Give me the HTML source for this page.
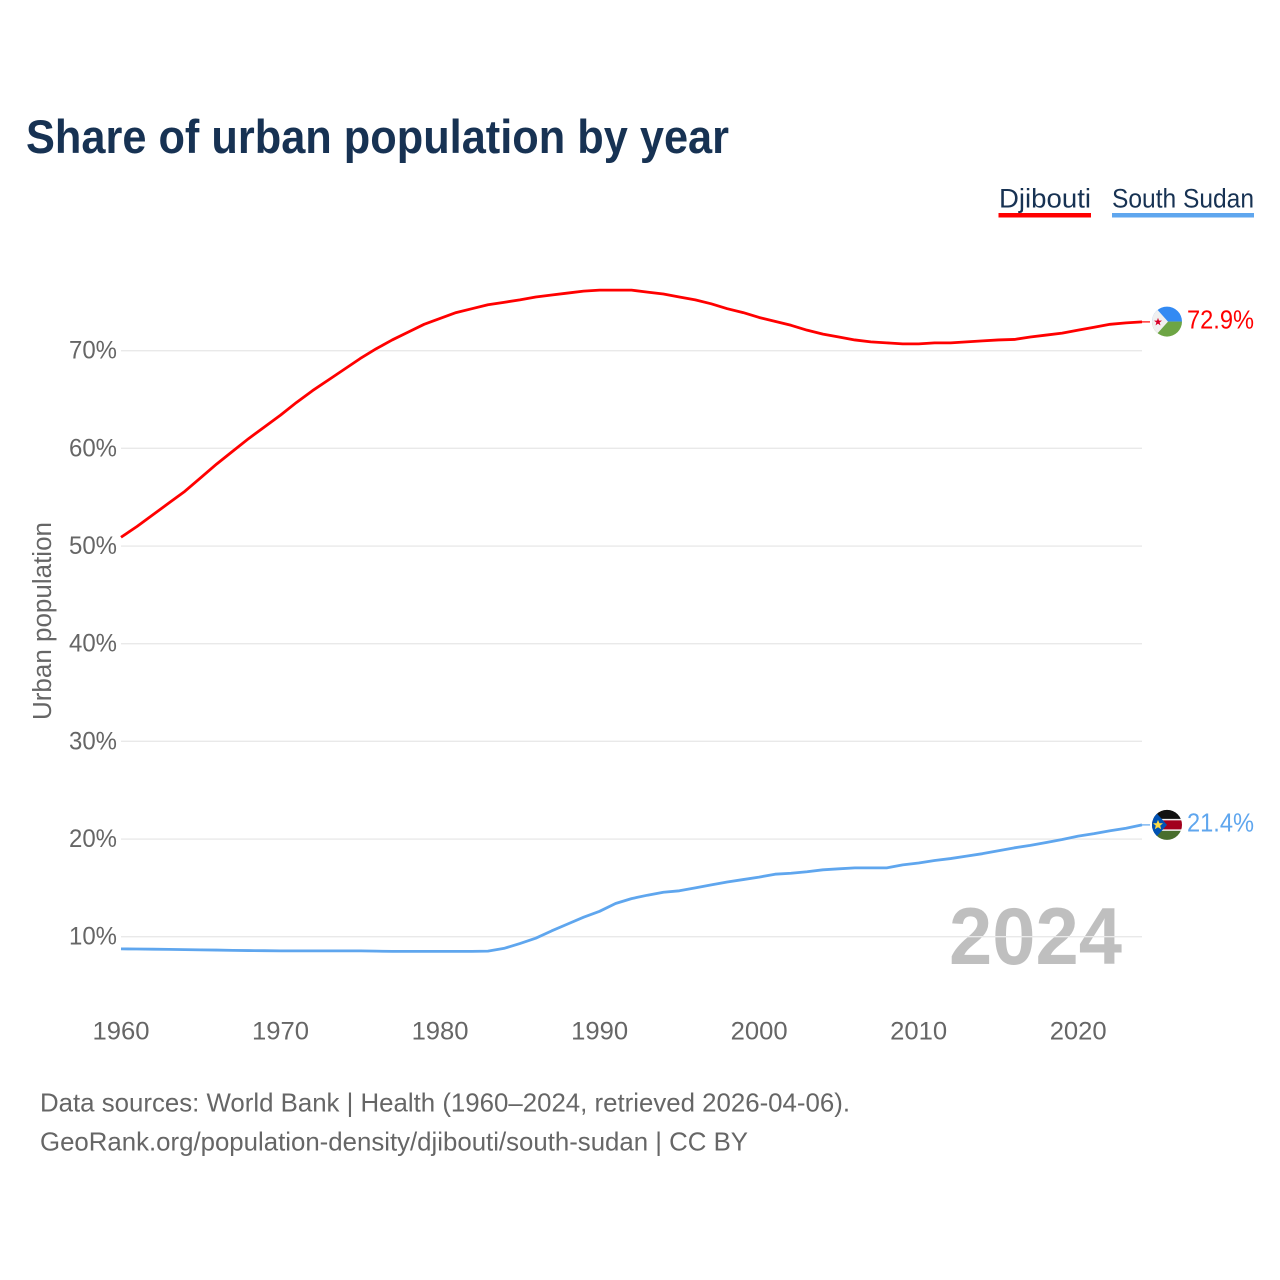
<!DOCTYPE html>
<html lang="en">
<head>
<meta charset="utf-8">
<title>Share of urban population by year</title>
<style>
  html, body { margin: 0; padding: 0; background: #fff; }
  svg { display: block; font-family: "Liberation Sans", sans-serif; }
</style>
</head>
<body>
<svg id="chart" xmlns="http://www.w3.org/2000/svg" width="1280" height="1280" viewBox="0 0 1280 1280">
  <defs>
    <clipPath id="flag-clip"><circle cx="0" cy="0" r="15"></circle></clipPath>
  </defs>
  <rect x="0" y="0" width="1280" height="1280" fill="#ffffff"></rect>

  <text x="26" y="153" font-size="47" font-weight="700" fill="#173253" textLength="703" lengthAdjust="spacingAndGlyphs">Share of urban population by year</text>

  <g>
    <g>
      <text x="999" y="207.5" font-size="27" fill="#173253" textLength="92" lengthAdjust="spacingAndGlyphs">Djibouti</text>
      <rect x="998.5" y="213" width="92.5" height="4.5" fill="#ff0000"></rect>
    </g>
    <g>
      <text x="1112" y="207.5" font-size="27" fill="#173253" textLength="142" lengthAdjust="spacingAndGlyphs">South Sudan</text>
      <rect x="1112" y="213" width="142" height="4.5" fill="#5fa6ee"></rect>
    </g>
  </g>

  <text transform="translate(51 720) rotate(-90)" font-size="25.5" fill="#666666" textLength="198" lengthAdjust="spacingAndGlyphs">Urban population</text>

  <text x="1122" y="964" text-anchor="end" font-size="81" font-weight="700" fill="#000000" fill-opacity="0.25" textLength="173" lengthAdjust="spacingAndGlyphs">2024</text>

  <g id="grid"></g>
  <g id="y-ticks"></g>
  <g id="x-ticks"></g>
  <g id="series"></g>

  <g id="flag-djibouti">
    <g clip-path="url(#flag-clip)">
      <rect x="-16" y="-16" width="32" height="16" fill="#338af3"></rect>
      <rect x="-16" y="0" width="32" height="16" fill="#6da544"></rect>
      <polygon points="-16,-19 -16,19 1,0" fill="#f0f0f0"></polygon>
      <polygon points="-9,-3.8 -8,-0.9 -5,-0.9 -7.4,0.9 -6.5,3.8 -9,2 -11.5,3.8 -10.6,0.9 -13,-0.9 -10,-0.9" fill="#d80027"></polygon>
    </g>
  </g>
  <g id="flag-south-sudan">
    <g clip-path="url(#flag-clip)">
      <rect x="-16" y="-16" width="32" height="32" fill="#f0f0f0"></rect>
      <rect x="-16" y="-16" width="32" height="10" fill="#111111"></rect>
      <rect x="-16" y="-4.5" width="32" height="9" fill="#a2001d"></rect>
      <rect x="-16" y="6" width="32" height="10" fill="#496e2d"></rect>
      <polygon points="-16,-18 -16,18 0,0" fill="#0052b4"></polygon>
      <polygon points="-9,-5 -7.6,-1.6 -4,-1.6 -6.8,0.8 -5.8,4.4 -9,2.4 -12.2,4.4 -11.2,0.8 -14,-1.6 -10.4,-1.6" fill="#ffda44"></polygon>
    </g>
  </g>
  <g id="end-labels"></g>

  <g>
    <text x="40" y="1111.5" font-size="26" fill="#666666" textLength="810" lengthAdjust="spacingAndGlyphs">Data sources: World Bank | Health (1960–2024, retrieved 2026-04-06).</text>
    <text x="40" y="1150.5" font-size="26" fill="#666666" textLength="708" lengthAdjust="spacingAndGlyphs">GeoRank.org/population-density/djibouti/south-sudan | CC BY</text>
  </g>
</svg>

<script>
const years = [1960,1961,1962,1963,1964,1965,1966,1967,1968,1969,1970,1971,1972,1973,1974,1975,1976,1977,1978,1979,1980,1981,1982,1983,1984,1985,1986,1987,1988,1989,1990,1991,1992,1993,1994,1995,1996,1997,1998,1999,2000,2001,2002,2003,2004,2005,2006,2007,2008,2009,2010,2011,2012,2013,2014,2015,2016,2017,2018,2019,2020,2021,2022,2023,2024];
const djibouti = [50.9,52.0,53.2,54.4,55.6,57.0,58.4,59.7,61.0,62.2,63.4,64.7,65.9,67.0,68.1,69.2,70.2,71.1,71.9,72.7,73.3,73.9,74.3,74.7,74.95,75.2,75.5,75.7,75.9,76.1,76.2,76.2,76.2,76.0,75.8,75.5,75.2,74.8,74.3,73.9,73.4,73.0,72.6,72.1,71.7,71.4,71.1,70.9,70.8,70.7,70.7,70.8,70.8,70.9,71.0,71.1,71.15,71.4,71.6,71.8,72.1,72.4,72.7,72.85,72.95];
const southSudan = [8.75,8.74,8.72,8.7,8.68,8.65,8.63,8.6,8.58,8.57,8.55,8.55,8.55,8.55,8.55,8.55,8.52,8.5,8.5,8.5,8.5,8.5,8.5,8.52,8.8,9.3,9.85,10.6,11.3,12.0,12.6,13.4,13.9,14.25,14.55,14.7,15.0,15.3,15.6,15.85,16.1,16.4,16.5,16.65,16.85,16.95,17.05,17.05,17.05,17.35,17.55,17.8,18.0,18.25,18.5,18.8,19.1,19.35,19.65,19.95,20.3,20.55,20.85,21.1,21.45];
const yTickValues = [10,20,30,40,50,60,70];
const yTickLabels = ["10%","20%","30%","40%","50%","60%","70%"];
const xTickYears = [1960,1970,1980,1990,2000,2010,2020];
const xTickLabels = ["1960","1970","1980","1990","2000","2010","2020"];
const latestLabels = ["72.9%","21.4%"];

const NS = "http://www.w3.org/2000/svg";
const xScale = function (year) { return 121 + (year - 1960) * (1142 - 121) / 64; };
const yScale = function (v) { return 936.7 - (v - 10) * 9.767; };

function make(tag, parent) {
  const el = document.createElementNS(NS, tag);
  parent.appendChild(el);
  return el;
}

const gridGroup = document.getElementById("grid");
const yTickGroup = document.getElementById("y-ticks");
yTickValues.forEach(function (v, i) {
  const line = make("line", gridGroup);
  
  
  line.setAttribute("x1", 121);
  line.setAttribute("x2", 1142);
  line.setAttribute("y1", yScale(v));
  line.setAttribute("y2", yScale(v));
  line.setAttribute("stroke", "#e9e9e9");
  line.setAttribute("stroke-width", "1.4");
  const label = make("text", yTickGroup);
  
  
  label.setAttribute("x", 117);
  label.setAttribute("y", yScale(v) + 8);
  label.setAttribute("text-anchor", "end");
  label.setAttribute("font-size", "25");
  label.setAttribute("fill", "#666666");
  label.setAttribute("textLength", "48");
  label.setAttribute("lengthAdjust", "spacingAndGlyphs");
  label.textContent = yTickLabels[i];
});

const xTickGroup = document.getElementById("x-ticks");
xTickYears.forEach(function (year, i) {
  const label = make("text", xTickGroup);
  
  
  label.setAttribute("x", xScale(year));
  label.setAttribute("y", 1039.5);
  label.setAttribute("text-anchor", "middle");
  label.setAttribute("font-size", "25");
  label.setAttribute("fill", "#666666");
  label.setAttribute("textLength", "57");
  label.setAttribute("lengthAdjust", "spacingAndGlyphs");
  label.textContent = xTickLabels[i];
});

function drawSeries(values, color, lineName, connectorName) {
  const group = document.getElementById("series");
  const d = values.map(function (v, i) {
    return (i ? "L" : "M") + xScale(years[i]).toFixed(2) + " " + yScale(v).toFixed(2);
  }).join(" ");
  const path = make("path", group);
  
  
  path.setAttribute("d", d);
  path.setAttribute("fill", "none");
  path.setAttribute("stroke", color);
  path.setAttribute("stroke-width", "2.8");
  path.setAttribute("stroke-linejoin", "round");
  const lastY = yScale(values[values.length - 1]);
  const connector = make("line", group);
  
  
  connector.setAttribute("x1", xScale(years[years.length - 1]));
  connector.setAttribute("x2", 1150);
  connector.setAttribute("y1", lastY);
  connector.setAttribute("y2", lastY);
  connector.setAttribute("stroke", color);
  connector.setAttribute("stroke-width", "1.6");
  connector.setAttribute("stroke-opacity", "0.75");
}
drawSeries(djibouti, "#ff0000", "line-djibouti", "connector-djibouti");
drawSeries(southSudan, "#5fa6ee", "line-south-sudan", "connector-south-sudan");

const djiboutiEndY = yScale(djibouti[djibouti.length - 1]);
const southSudanEndY = yScale(southSudan[southSudan.length - 1]);
document.getElementById("flag-djibouti").setAttribute("transform", "translate(1167 " + (djiboutiEndY - 0.3) + ")");
document.getElementById("flag-south-sudan").setAttribute("transform", "translate(1167 " + (southSudanEndY) + ")");

const endGroup = document.getElementById("end-labels");
const endLabelDjibouti = make("text", endGroup);


endLabelDjibouti.setAttribute("x", 1187);
endLabelDjibouti.setAttribute("y", djiboutiEndY + 6.8);
endLabelDjibouti.setAttribute("font-size", "25.5");
endLabelDjibouti.setAttribute("fill", "#ff0000");
endLabelDjibouti.setAttribute("textLength", "67");
endLabelDjibouti.setAttribute("lengthAdjust", "spacingAndGlyphs");
endLabelDjibouti.textContent = latestLabels[0];

const endLabelSudan = make("text", endGroup);


endLabelSudan.setAttribute("x", 1187);
endLabelSudan.setAttribute("y", southSudanEndY + 6.8);
endLabelSudan.setAttribute("font-size", "25.5");
endLabelSudan.setAttribute("fill", "#5fa6ee");
endLabelSudan.setAttribute("textLength", "67");
endLabelSudan.setAttribute("lengthAdjust", "spacingAndGlyphs");
endLabelSudan.textContent = latestLabels[1];
</script>
</body>
</html>
